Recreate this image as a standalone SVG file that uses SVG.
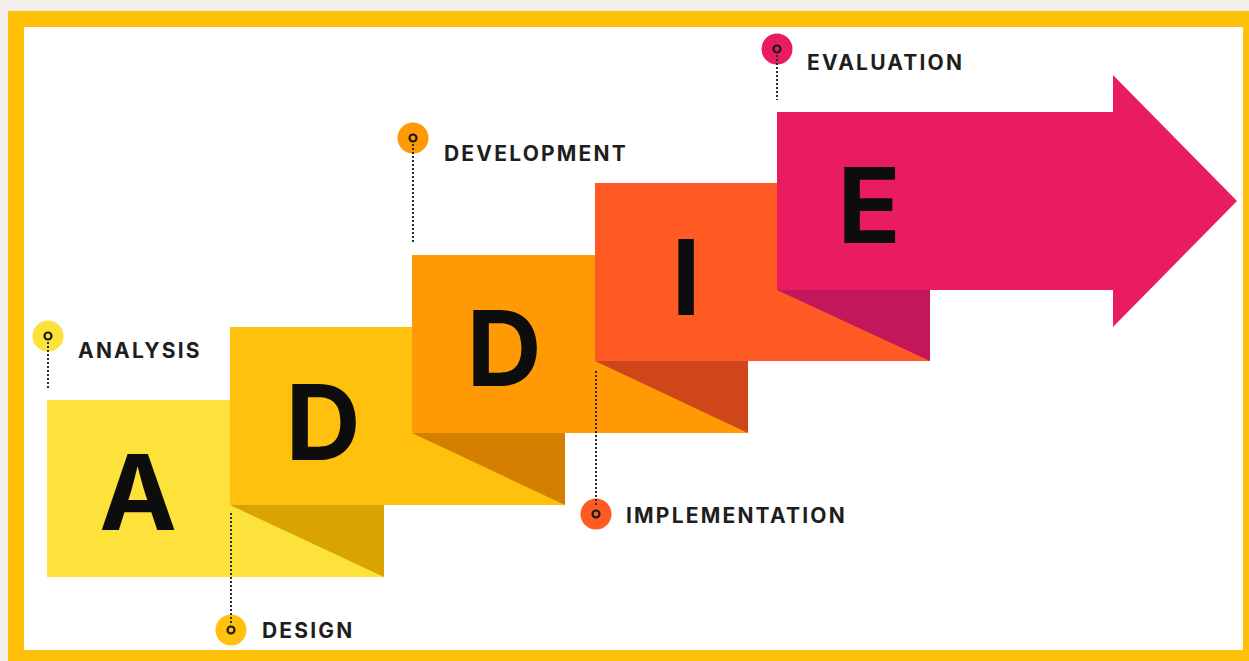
<svg xmlns="http://www.w3.org/2000/svg" width="1249" height="661" viewBox="0 0 1249 661">
<style>
.letter{font-family:Inter,"Liberation Sans",sans-serif;font-weight:700;font-size:104px;fill:#0d0d0d;text-anchor:middle}
.label{font-family:Inter,"Liberation Sans",sans-serif;font-weight:700;font-size:21px;fill:#1e1e1e;letter-spacing:2.2px}
.dots{stroke:#2a2a3a;stroke-width:2;stroke-dasharray:2 2;fill:none}
.ring{fill:none;stroke:#1a1a1a;stroke-width:2.2}
</style>
<rect x="0" y="0" width="1249" height="661" fill="#f2efeb"/>
<rect x="8" y="11" width="1241" height="650" fill="#ffc107"/>
<rect x="24" y="27" width="1219" height="623" fill="#ffffff"/>

<g id="analysis">
<rect x="47" y="400" width="337" height="177" fill="#fde23b"/>
<text class="letter" x="138" y="530">A</text>
<circle cx="48" cy="336" r="15.5" fill="#fde23b"/>
<circle class="ring" cx="48" cy="336" r="3.5"/>
<text class="label" x="78" y="358">ANALYSIS</text>
</g>

<g id="design">
<rect x="230" y="327" width="335" height="178" fill="#ffc10e"/>
<polygon points="230,505 384,505 384,577" fill="#d9a302"/>
<text class="letter" x="323" y="460">D</text>
<circle cx="231" cy="630" r="15.5" fill="#ffc10e"/>
<circle class="ring" cx="231" cy="630" r="3.5"/>
<text class="label" x="262" y="638">DESIGN</text>
</g>

<g id="development">
<rect x="412" y="255" width="336" height="178" fill="#ff9a05"/>
<polygon points="412,433 565,433 565,505" fill="#d47f00"/>
<text class="letter" x="504" y="386">D</text>
<circle cx="413" cy="138" r="15.5" fill="#ff9a05"/>
<circle class="ring" cx="413" cy="138" r="3.5"/>
<text class="label" x="444" y="161">DEVELOPMENT</text>
</g>

<g id="implementation">
<rect x="595" y="183" width="335" height="178" fill="#ff5a24"/>
<polygon points="595,361 748,361 748,433" fill="#cf461b"/>
<text class="letter" x="686" y="315">I</text>
<circle cx="596" cy="514" r="15.5" fill="#ff5a24"/>
<circle class="ring" cx="596" cy="514" r="3.5"/>
<text class="label" x="626" y="523">IMPLEMENTATION</text>
</g>

<g id="evaluation">
<polygon points="777,112 1113,112 1113,75 1237,201 1113,327 1113,290 777,290" fill="#e81c5e"/>
<polygon points="777,290 930,290 930,361" fill="#c2185b"/>
<text class="letter" x="869" y="243">E</text>
<circle cx="777" cy="49" r="15.5" fill="#e81c5e"/>
<circle class="ring" cx="777" cy="49" r="3.5"/>
<text class="label" x="807" y="70">EVALUATION</text>
</g>

<g id="connectors">
<line class="dots" x1="48" y1="342" x2="48" y2="388"/>
<line class="dots" x1="231" y1="513" x2="231" y2="624"/>
<line class="dots" x1="413" y1="144" x2="413" y2="244"/>
<line class="dots" x1="596" y1="371" x2="596" y2="507"/>
<line class="dots" x1="777" y1="55" x2="777" y2="100"/>
</g>
</svg>
